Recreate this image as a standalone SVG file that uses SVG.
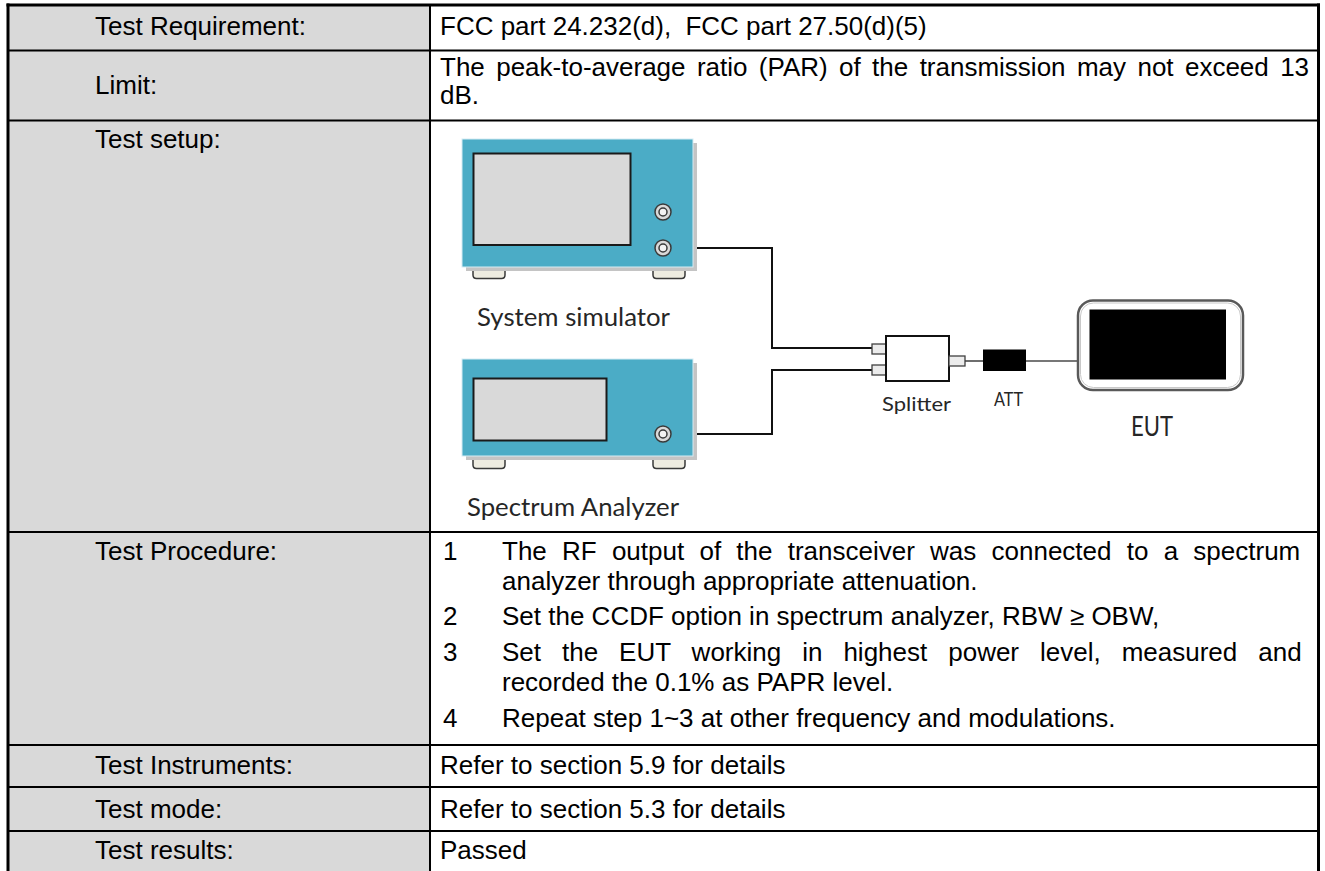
<svg xmlns="http://www.w3.org/2000/svg" width="1325" height="871" viewBox="0 0 1325 871">
<defs>
<style>
.t{font-family:"Liberation Sans",Arial,sans-serif;font-size:26px;fill:#000}
.d{font-family:Lato,"Liberation Sans",sans-serif;fill:#262626}
.ln{stroke:#000;stroke-width:2;fill:none}
.bd{stroke:#000;stroke-width:3;fill:none}
.box{fill:#4bacc6;stroke:#d6ecf3;stroke-width:1}
.shadow{fill:#c4c4c4}
.scr{fill:#d9d9d9;stroke:#1a1a1a;stroke-width:2}
.foot{fill:#eeece1;stroke:#3a3a3a;stroke-width:1.5}
.knob{fill:#d9d9d9;stroke:#3a3a3a;stroke-width:1.5}
.knobi{fill:#f2f2f2;stroke:#3a3a3a;stroke-width:1.5}
.port{fill:#ececec;stroke:#404040;stroke-width:1.3}
.cable{stroke:#111;stroke-width:2;fill:none}
.cable2{stroke:#4a4a4a;stroke-width:1.6;fill:none}
</style>
</defs>
<rect width="1325" height="871" fill="#fff"/>
<g id="table">
<rect x="8" y="5" width="422" height="866" fill="#d9d9d9"/>
<line class="ln" x1="8" y1="50.5" x2="1318.5" y2="50.5"/>
<line class="ln" x1="8" y1="120.5" x2="1318.5" y2="120.5"/>
<line class="ln" x1="8" y1="532" x2="1318.5" y2="532"/>
<line class="ln" x1="8" y1="745" x2="1318.5" y2="745"/>
<line class="ln" x1="8" y1="787" x2="1318.5" y2="787"/>
<line class="ln" x1="8" y1="831" x2="1318.5" y2="831"/>
<line class="ln" x1="430" y1="5" x2="430" y2="871"/>
<line class="bd" x1="6.5" y1="5" x2="1320" y2="5"/>
<line class="bd" x1="8" y1="3.5" x2="8" y2="871"/>
<line class="bd" x1="1318.5" y1="3.5" x2="1318.5" y2="871"/>
<text class="t" x="95" y="35">Test Requirement:</text>
<text class="t" x="440" y="35">FCC part 24.232(d),<tspan dx="7"> FCC part 27.50(d)(5)</tspan></text>
<text class="t" x="95" y="94">Limit:</text>
<text class="t" x="440" y="76" style="word-spacing:4.15px">The peak-to-average ratio (PAR) of the transmission may not exceed 13</text>
<text class="t" x="440" y="104">dB.</text>
<text class="t" x="95" y="148">Test setup:</text>
<text class="t" x="95" y="560">Test Procedure:</text>
<text class="t" x="443" y="560">1</text>
<text class="t" x="502" y="560" style="word-spacing:8px">The RF output of the transceiver was connected to a spectrum</text>
<text class="t" x="502" y="590">analyzer through appropriate attenuation.</text>
<text class="t" x="443" y="625">2</text>
<text class="t" x="502" y="625">Set the CCDF option in spectrum analyzer, RBW ≥ OBW,</text>
<text class="t" x="443" y="661">3</text>
<text class="t" x="502" y="661" style="word-spacing:13.75px">Set the EUT working in highest power level, measured and</text>
<text class="t" x="502" y="691">recorded the 0.1% as PAPR level.</text>
<text class="t" x="443" y="727">4</text>
<text class="t" x="502" y="727">Repeat step 1~3 at other frequency and modulations.</text>
<text class="t" x="95" y="774">Test Instruments:</text>
<text class="t" x="440" y="774">Refer to section 5.9 for details</text>
<text class="t" x="95" y="818">Test mode:</text>
<text class="t" x="440" y="818">Refer to section 5.3 for details</text>
<text class="t" x="95" y="859">Test results:</text>
<text class="t" x="440" y="859">Passed</text>
</g>
<g id="connectors">
<polyline class="cable" points="671,248 772,248 772,348 872,348"/>
<polyline class="cable" points="671,434 772,434 772,370 872,370"/>
<line class="cable2" x1="965" y1="361" x2="983" y2="361"/>
<line class="cable2" x1="1026" y1="361" x2="1077" y2="361"/>
</g>
<g id="system-simulator">
<path class="foot" d="M473,266 V275 Q473,278.5 476.5,278.5 H501.5 Q505,278.5 505,275 V266"/>
<path class="foot" d="M653,266 V275 Q653,278.5 656.5,278.5 H681.5 Q685,278.5 685,275 V266"/>
<rect class="shadow" x="466" y="143" width="231" height="128"/>
<rect class="box" x="462" y="139" width="231" height="128"/>
<rect class="scr" x="473.5" y="153.5" width="157" height="91.5"/>
<circle class="knob" cx="663" cy="212" r="8"/>
<circle class="knobi" cx="663" cy="212" r="4"/>
<circle class="knob" cx="663" cy="248" r="8"/>
<circle class="knobi" cx="663" cy="248" r="4"/>
<text class="d" x="477" y="326" font-size="25" textLength="193" lengthAdjust="spacingAndGlyphs">System simulator</text>
</g>
<g id="spectrum-analyzer">
<path class="foot" d="M473,455 V465 Q473,468.5 476.5,468.5 H501.5 Q505,468.5 505,465 V455"/>
<path class="foot" d="M653,455 V465 Q653,468.5 656.5,468.5 H681.5 Q685,468.5 685,465 V455"/>
<rect class="shadow" x="466" y="363" width="231" height="97"/>
<rect class="box" x="462" y="359" width="231" height="97"/>
<rect class="scr" x="473.5" y="378.5" width="133" height="62"/>
<circle class="knob" cx="663" cy="434" r="8"/>
<circle class="knobi" cx="663" cy="434" r="4"/>
<text class="d" x="467" y="516" font-size="25" textLength="212" lengthAdjust="spacingAndGlyphs">Spectrum Analyzer</text>
</g>
<g id="splitter">
<rect class="port" x="872" y="344" width="14" height="10"/>
<rect class="port" x="872" y="365" width="14" height="10"/>
<rect x="886" y="336" width="63" height="45" fill="#fff" stroke="#111" stroke-width="2"/>
<rect class="port" x="949" y="356" width="16" height="10"/>
<text class="d" x="882" y="411" font-size="20" textLength="69" lengthAdjust="spacingAndGlyphs">Splitter</text>
</g>
<g id="att">
<rect x="983" y="349.5" width="43" height="21.5" fill="#000"/>
<text class="d" x="994" y="406" font-size="19" textLength="29" lengthAdjust="spacingAndGlyphs">ATT</text>
</g>
<g id="eut">
<rect x="1078" y="300.5" width="165" height="89.5" rx="15" fill="#fff" stroke="#595959" stroke-width="2.5"/>
<rect x="1080.5" y="303" width="160" height="84.5" rx="13" fill="none" stroke="#c8c8c8" stroke-width="1"/>
<rect x="1089.5" y="309.5" width="136.5" height="70" fill="#000"/>
<text class="d" x="1131" y="436" font-size="26" textLength="42" lengthAdjust="spacingAndGlyphs">EUT</text>
</g>
</svg>
